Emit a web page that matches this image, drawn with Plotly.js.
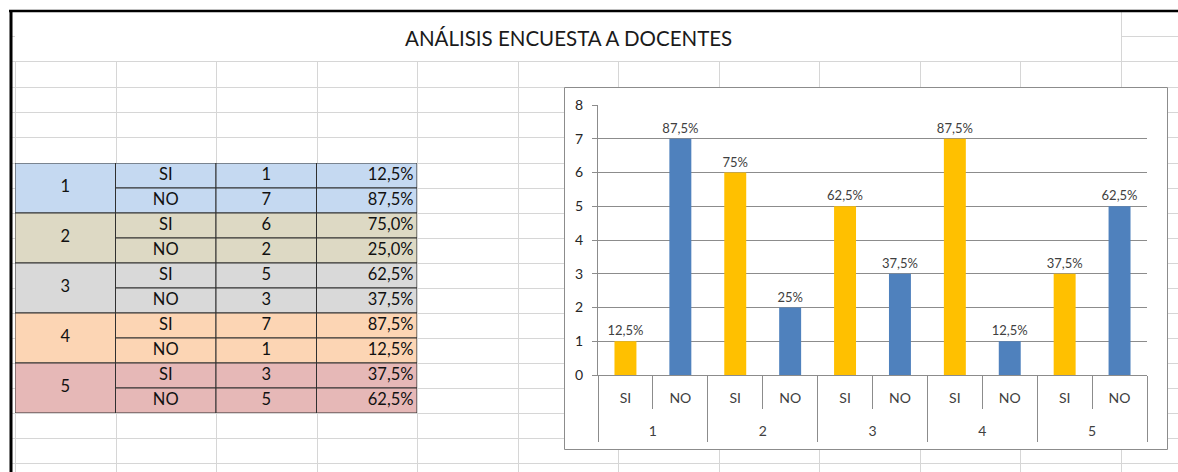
<!DOCTYPE html>
<html><head><meta charset="utf-8">
<script src="https://cdn.plot.ly/plotly-3.0.1.min.js"></script>
<style>html,body{margin:0;padding:0;background:#fff;overflow:hidden}#chart{width:1178px;height:472px}</style>
</head><body><div id="chart"></div><script>
// ---------- data ----------
const preguntas = ['1', '2', '3', '4', '5'];
const respuestas = ['SI', 'NO'];
const conteoSI = [1, 6, 5, 7, 3];
const conteoNO = [7, 2, 3, 1, 5];
const pctTablaSI = ['12,5%', '75,0%', '62,5%', '87,5%', '37,5%'];
const pctTablaNO = ['87,5%', '25,0%', '37,5%', '12,5%', '62,5%'];
const pctGraficoSI = ['12,5%', '75%', '62,5%', '87,5%', '37,5%'];
const pctGraficoNO = ['87,5%', '25%', '37,5%', '12,5%', '62,5%'];
const tituloTexto = 'ANÁLISIS ENCUESTA A DOCENTES';

// ---------- styles / layout constants ----------
const W = 1178, H = 472;
const FONT = 'Lato, "Noto Sans", sans-serif';
const colorSI = '#FFC000', colorNO = '#4F81BD';
const groupFill = ['#C5D9F1', '#DDD9C4', '#D9D9D9', '#FCD5B4', '#E6B8B7'];
const gridGray = '#D6D6D6';
const axisGray = '#8C8C8C';
const sheetCols = [15, 116, 216, 317, 417, 518, 618, 719, 819, 920, 1020];
const sheetRows = [61, 87, 112, 137, 163, 188, 213, 238, 263, 288, 313, 338, 363, 388, 413, 438, 463];
const px = v => v / W, py = v => 1 - v / H;

// ---------- chart series (one slot per answer, grouped by question) ----------
const slot = [], subLabels = [], yVals = [], barColors = [], barText = [];
const groupCenters = [], groupEdges = [], innerEdges = [];
preguntas.forEach((p, i) => {
  const a = i * respuestas.length;
  slot.push(a, a + 1);
  subLabels.push(respuestas[0], respuestas[1]);
  yVals.push(conteoSI[i], conteoNO[i]);
  barColors.push(colorSI, colorNO);
  barText.push(pctGraficoSI[i], pctGraficoNO[i]);
  groupCenters.push(a + 0.5);
  groupEdges.push(a - 0.5);
  innerEdges.push(a + 0.5);
});
groupEdges.push(slot.length - 0.5);
const xRange = [-0.5, slot.length - 0.5];

// ---------- table cells (drawn as bars on a hidden grid axis) ----------
const cx = [], cbase = [], ch = [], ccol = [];
const t1x = [], t1y = [], t1t = [];
const t2x = [], t2y = [], t2t = [];
const t3x = [], t3y = [], t3t = [];
const t4x = [], t4y = [], t4t = [];
preguntas.forEach((p, i) => {
  cx.push(0.5); cbase.push(2 * i); ch.push(2); ccol.push(groupFill[i]);
  t1x.push(0.5); t1y.push(2 * i + 1); t1t.push(p);
  const cnt = [conteoSI[i], conteoNO[i]];
  const pct = [pctTablaSI[i], pctTablaNO[i]];
  for (let r = 0; r < 2; r++) {
    for (let c = 1; c < 4; c++) {
      cx.push(c + 0.5); cbase.push(2 * i + r); ch.push(1); ccol.push(groupFill[i]);
    }
    t2x.push(1.5); t2y.push(2 * i + r + 0.5); t2t.push(respuestas[r]);
    t3x.push(2.5); t3y.push(2 * i + r + 0.5); t3t.push(String(cnt[r]));
    t4x.push(3.965); t4y.push(2 * i + r + 0.5); t4t.push(pct[r]);
  }
});
const tableFont = {family: FONT, size: 16.5, color: '#111111'};

const traces = [
  {
    type: 'bar', x: slot, y: yVals, width: 0.4,
    marker: {color: barColors},
    text: barText, textposition: 'outside', cliponaxis: false, constraintext: 'none',
    textfont: {family: FONT, size: 13, color: '#404040'},
    hoverinfo: 'skip'
  },
  {type: 'scatter', x: [], y: [], xaxis: 'x3', yaxis: 'y', hoverinfo: 'skip'},
  {type: 'scatter', x: [], y: [], xaxis: 'x4', yaxis: 'y', hoverinfo: 'skip'},
  {
    type: 'bar', xaxis: 'x2', yaxis: 'y2', x: cx, y: ch, base: cbase, width: 1,
    marker: {color: ccol, line: {color: '#303030', width: 1}}, hoverinfo: 'skip'
  },
  {type: 'scatter', mode: 'text', xaxis: 'x2', yaxis: 'y2', x: t1x, y: t1y, text: t1t,
   textposition: 'middle center', textfont: tableFont, hoverinfo: 'skip'},
  {type: 'scatter', mode: 'text', xaxis: 'x2', yaxis: 'y2', x: t2x, y: t2y, text: t2t,
   textposition: 'middle center', textfont: tableFont, hoverinfo: 'skip'},
  {type: 'scatter', mode: 'text', xaxis: 'x2', yaxis: 'y2', x: t3x, y: t3y, text: t3t,
   textposition: 'middle center', textfont: tableFont, hoverinfo: 'skip'},
  {type: 'scatter', mode: 'text', xaxis: 'x2', yaxis: 'y2', x: t4x, y: t4y, text: t4t,
   textposition: 'middle left', textfont: tableFont, hoverinfo: 'skip'}
];

// ---------- spreadsheet background ----------
const shapes = [];
const gl = (x0, y0, x1, y1, color, width) => shapes.push({
  type: 'line', xref: 'paper', yref: 'paper', layer: 'below',
  x0: px(x0), y0: py(y0), x1: px(x1), y1: py(y1), line: {color: color, width: width}
});
sheetRows.forEach(r => gl(12, r + 0.5, W, r + 0.5, gridGray, 1));
gl(1121, 36.5, W, 36.5, gridGray, 1);
gl(12, 36.5, 15, 36.5, gridGray, 1);
sheetCols.forEach(c => gl(c + 0.5, 61, c + 0.5, H, gridGray, 1));
gl(1121.5, 12, 1121.5, H, gridGray, 1);
// chart area box
shapes.push({type: 'rect', xref: 'paper', yref: 'paper', layer: 'below',
  x0: px(564.5), x1: px(1167.5), y0: py(449.5), y1: py(87.5),
  fillcolor: '#FFFFFF', line: {color: axisGray, width: 1}});
// thick sheet border
gl(9, 11, W, 11, '#000000', 2.5);
gl(11, 10, 11, H, '#000000', 3);

const labelFont = {family: FONT, size: 14, color: '#404040'};
const layout = {
  width: W, height: H,
  margin: {l: 0, r: 0, t: 0, b: 0},
  paper_bgcolor: '#FFFFFF', plot_bgcolor: 'rgba(0,0,0,0)',
  showlegend: false, barmode: 'overlay', hovermode: false,
  font: {family: FONT},
  xaxis: {
    domain: [px(598), px(1147)], range: xRange,
    showline: true, linecolor: axisGray, linewidth: 1, zeroline: false, showgrid: false,
    tickmode: 'array', tickvals: groupEdges, ticks: 'outside', ticklen: 66,
    tickcolor: axisGray, tickwidth: 1, showticklabels: false,
    minor: {tickmode: 'array', tickvals: innerEdges, ticks: 'outside', ticklen: 33,
            tickcolor: axisGray, tickwidth: 1, showgrid: false},
    fixedrange: true
  },
  xaxis3: {
    overlaying: 'x', anchor: 'y', range: xRange, showline: false, zeroline: false, showgrid: false,
    tickmode: 'array', tickvals: slot, ticktext: subLabels, ticks: '',
    tickfont: labelFont, ticklabelstandoff: 13, fixedrange: true
  },
  xaxis4: {
    overlaying: 'x', anchor: 'y', range: xRange, showline: false, zeroline: false, showgrid: false,
    tickmode: 'array', tickvals: groupCenters, ticktext: preguntas, ticks: '',
    tickfont: labelFont, ticklabelstandoff: 46, fixedrange: true
  },
  yaxis: {
    domain: [py(375), py(105)], range: [0, 8], dtick: 1, tick0: 0,
    showgrid: true, gridcolor: axisGray, gridwidth: 1,
    showline: true, linecolor: axisGray, zeroline: false,
    ticks: 'outside', ticklen: 5, tickcolor: axisGray,
    tickfont: {family: FONT, size: 14, color: '#262626'},
    ticklabelstandoff: 6, fixedrange: true
  },
  xaxis2: {domain: [px(15), px(417)], range: [0, 4], visible: false, fixedrange: true},
  yaxis2: {domain: [py(413), py(163)], range: [10, 0], visible: false, fixedrange: true},
  shapes: shapes,
  annotations: [{
    xref: 'paper', yref: 'paper', x: px(568), y: py(38), xanchor: 'center', yanchor: 'middle',
    text: tituloTexto, showarrow: false, font: {family: FONT, size: 20.5, color: '#1a1a1a'}
  }]
};

Plotly.newPlot('chart', traces, layout, {staticPlot: true, displayModeBar: false});
</script></body></html>
